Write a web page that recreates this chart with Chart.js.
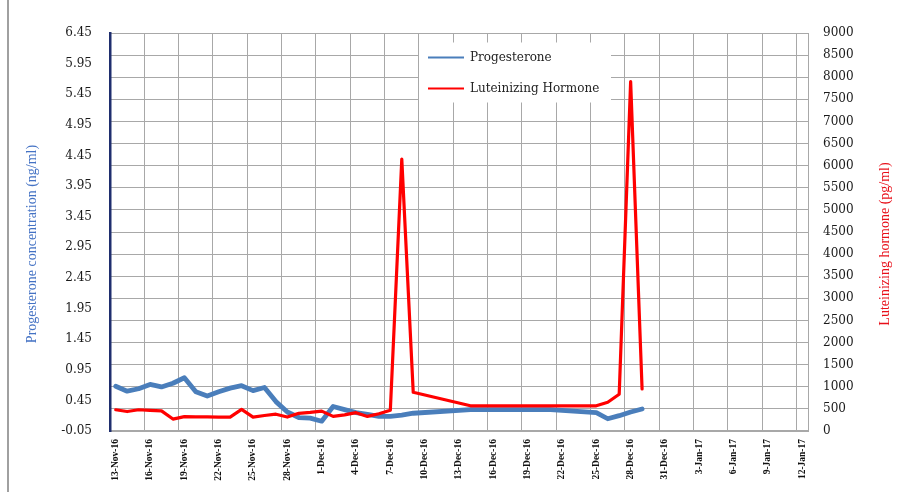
<!DOCTYPE html>
<html>
<head>
<meta charset="utf-8">
<script src="https://cdn.jsdelivr.net/npm/chart.js@4.4.1/dist/chart.umd.min.js"></script>
<style>
  html, body { margin: 0; padding: 0; background: #fff; }
  #wrap { position: relative; width: 898px; height: 492px; overflow: hidden; }
  #frame { position: absolute; left: 7px; top: 0; width: 2px; height: 492px; background: #a0a0a0; }
  #chart { position: absolute; left: 0; top: 0; }
</style>
</head>
<body>
<div id="wrap">
  <div id="frame"></div>
  <canvas id="chart" width="898" height="492"></canvas>
</div>
<script>
// ---- data -------------------------------------------------------------
const axisStart = '2016-11-13';

const progDates = [
  '2016-11-13','2016-11-14','2016-11-15','2016-11-16','2016-11-17','2016-11-18',
  '2016-11-19','2016-11-20','2016-11-21','2016-11-22','2016-11-23','2016-11-24',
  '2016-11-25','2016-11-26','2016-11-27','2016-11-28','2016-11-29','2016-11-30',
  '2016-12-01','2016-12-02','2016-12-03','2016-12-04','2016-12-05','2016-12-06',
  '2016-12-07','2016-12-08','2016-12-09','2016-12-14','2016-12-21','2016-12-25',
  '2016-12-26','2016-12-27','2016-12-28','2016-12-29'
];
const progValues = [
  0.68, 0.60, 0.64, 0.71, 0.67, 0.73,
  0.82, 0.59, 0.52, 0.59, 0.65, 0.69,
  0.61, 0.66, 0.43, 0.26, 0.17, 0.16,
  0.11, 0.35, 0.30, 0.25, 0.22, 0.19,
  0.19, 0.21, 0.24, 0.30, 0.30, 0.25,
  0.15, 0.20, 0.26, 0.31
];

const lhDates = [
  '2016-11-13','2016-11-14','2016-11-15','2016-11-16','2016-11-17','2016-11-18',
  '2016-11-19','2016-11-20','2016-11-21','2016-11-22','2016-11-23','2016-11-24',
  '2016-11-25','2016-11-26','2016-11-27','2016-11-28','2016-11-29','2016-11-30',
  '2016-12-01','2016-12-02','2016-12-03','2016-12-04','2016-12-05','2016-12-06',
  '2016-12-07','2016-12-08','2016-12-09','2016-12-14','2016-12-25','2016-12-26',
  '2016-12-27','2016-12-28','2016-12-29'
];
const lhValues = [
  480, 440, 480, 465, 455, 270,
  325, 320, 320, 315, 315, 490,
  315, 350, 380, 315, 400, 420,
  450, 330, 365, 415, 330, 390,
  470, 6150, 875, 570, 570, 650,
  830, 7900, 950
];

const dateTicks = [
  '13-Nov-16','16-Nov-16','19-Nov-16','22-Nov-16','25-Nov-16','28-Nov-16',
  '1-Dec-16','4-Dec-16','7-Dec-16','10-Dec-16','13-Dec-16','16-Dec-16',
  '19-Dec-16','22-Dec-16','25-Dec-16','28-Dec-16','31-Dec-16','3-Jan-17',
  '6-Jan-17','9-Jan-17','12-Jan-17'
];
const progTicks = [-0.05, 0.45, 0.95, 1.45, 1.95, 2.45, 2.95, 3.45, 3.95, 4.45, 4.95, 5.45, 5.95, 6.45];
const lhTicks = [0, 500, 1000, 1500, 2000, 2500, 3000, 3500, 4000, 4500, 5000, 5500, 6000, 6500, 7000, 7500, 8000, 8500, 9000];

const progTitle = 'Progesterone concentration (ng/ml)';
const lhTitle = 'Luteinizing hormone (pg/ml)';

// ---- helpers ----------------------------------------------------------
const DAY = 864e5;
const dayOf = s => Math.round((Date.parse(s) - Date.parse(axisStart)) / DAY);
const toPoints = (dates, values) => dates.map((d, i) => ({ x: dayOf(d), y: values[i] }));

const BLUE = '#4a7ebb';
const RED = '#ff0000';
const GRID = '#a8a8a8';

// axis titles (both read bottom-to-top) and the inset legend
const panelText = {
  id: 'panelText',
  afterDraw(chart) {
    const { ctx, chartArea: a } = chart;
    const cy = (a.top + a.bottom) / 2 + 12;

    const vertical = (text, x, color) => {
      ctx.save();
      ctx.translate(x, cy);
      ctx.rotate(-Math.PI / 2);
      ctx.font = '14px "Liberation Serif"';
      ctx.fillStyle = color;
      ctx.textAlign = 'center';
      ctx.textBaseline = 'middle';
      ctx.fillText(text, 0, 0);
      ctx.restore();
    };
    vertical(progTitle, 32, '#4472c4');
    vertical(lhTitle, 885, '#e8101a');

    // legend box inside the plot
    const lx = a.left + 309, ly = a.top + 9.5, w = 192, h = 60;
    ctx.save();
    ctx.fillStyle = '#ffffff';
    ctx.fillRect(lx, ly, w, h);
    ctx.font = '12px "DejaVu Serif"';
    ctx.textBaseline = 'middle';
    ctx.textAlign = 'left';
    chart.data.datasets.forEach((ds, i) => {
      const y = ly + 15 + i * 31;
      ctx.strokeStyle = ds.borderColor;
      ctx.lineWidth = 2;
      ctx.beginPath();
      ctx.moveTo(lx + 9, y);
      ctx.lineTo(lx + 45, y);
      ctx.stroke();
      ctx.fillStyle = '#222';
      ctx.fillText(ds.label, lx + 51, y);
    });
    ctx.restore();
  }
};

new Chart(document.getElementById('chart'), {
  type: 'line',
  data: {
    datasets: [
      {
        label: 'Progesterone',
        data: toPoints(progDates, progValues),
        yAxisID: 'y',
        borderColor: BLUE,
        borderWidth: 4.8,
        pointRadius: 0,
        tension: 0,
        borderJoinStyle: 'round',
        borderCapStyle: 'round',
        order: 1
      },
      {
        label: 'Luteinizing Hormone',
        data: toPoints(lhDates, lhValues),
        yAxisID: 'y1',
        borderColor: RED,
        borderWidth: 3.2,
        pointRadius: 0,
        tension: 0,
        borderJoinStyle: 'round',
        borderCapStyle: 'round',
        order: 0
      }
    ]
  },
  options: {
    responsive: false,
    animation: false,
    layout: { padding: { top: 33, left: 0, right: 0, bottom: 0 } },
    plugins: {
      legend: { display: false },
      tooltip: { enabled: false }
    },
    scales: {
      x: {
        type: 'linear',
        position: 'bottom',
        min: -0.5,
        max: 60.5,
        afterBuildTicks: s => { s.ticks = dateTicks.map((_, i) => ({ value: i * 3 - 0.5 })); },
        afterFit: s => { s.height = 61; },
        ticks: {
          autoSkip: false,
          minRotation: 90,
          maxRotation: 90,
          labelOffset: 5.7,
          padding: 8,
          color: '#111',
          font: { family: 'Liberation Serif', size: 9.5, weight: 'bold' },
          callback: (v, i) => dateTicks[i]
        },
        grid: { color: GRID, lineWidth: 1, drawTicks: false },
        border: { color: GRID, width: 1.5 }
      },
      y: {
        type: 'linear',
        position: 'left',
        min: -0.05,
        max: 6.45,
        afterBuildTicks: s => { s.ticks = progTicks.map(v => ({ value: v })); },
        afterFit: s => { s.width = 110; },
        ticks: {
          padding: 18,
          color: '#1a1a1a',
          font: { family: 'DejaVu Serif', size: 12 },
          callback: v => v.toFixed(2)
        },
        grid: { display: false, drawTicks: false },
        border: { color: '#1f2e6e', width: 2.5 }
      },
      y1: {
        type: 'linear',
        position: 'right',
        min: 0,
        max: 9000,
        afterBuildTicks: s => { s.ticks = lhTicks.map(v => ({ value: v })); },
        afterFit: s => { s.width = 90; },
        ticks: {
          padding: 15,
          color: '#1a1a1a',
          font: { family: 'DejaVu Serif', size: 12 },
          callback: v => String(v)
        },
        grid: { color: GRID, lineWidth: 1, drawTicks: false },
        border: { color: GRID, width: 1 }
      }
    }
  },
  plugins: [panelText]
});
</script>
</body>
</html>
